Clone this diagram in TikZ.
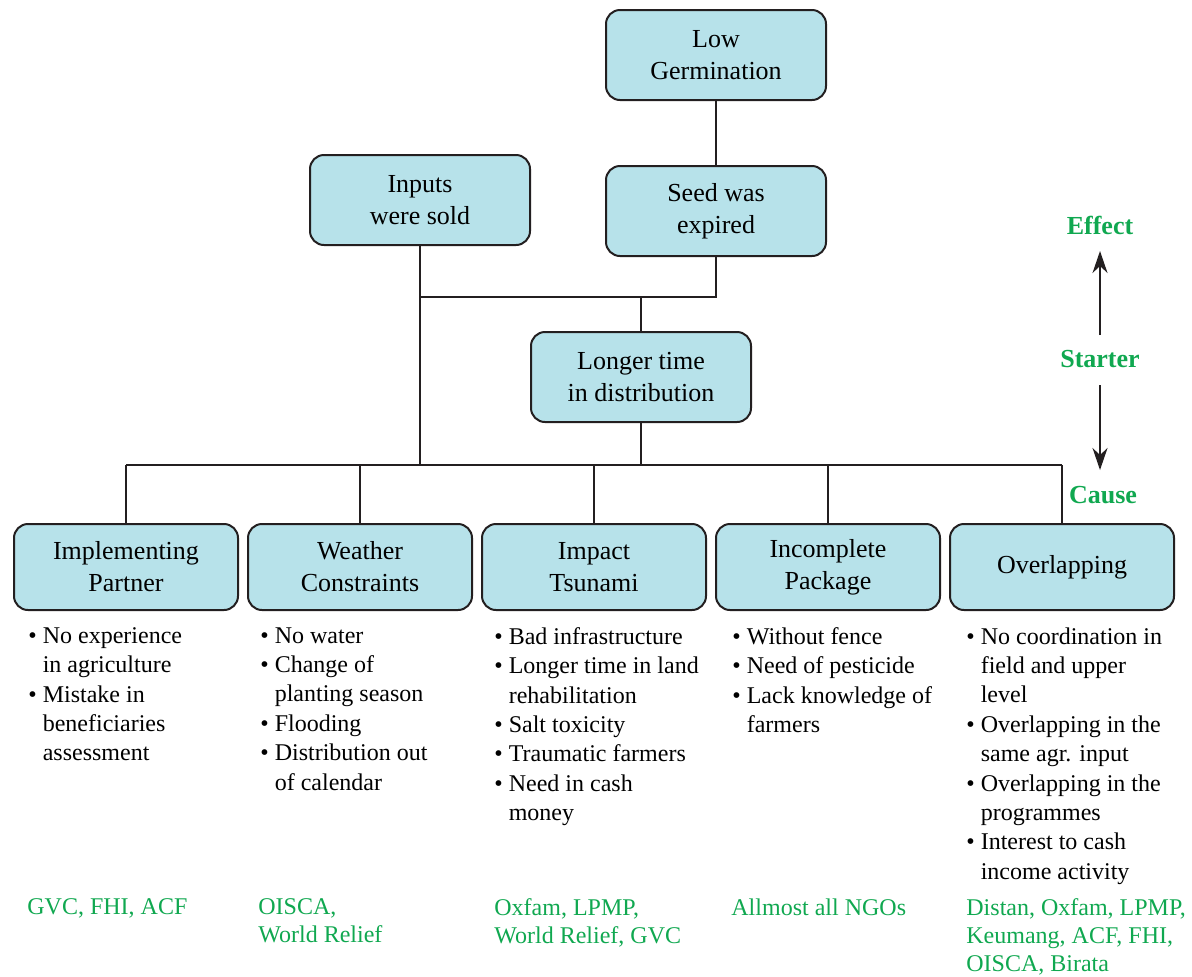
\documentclass[tikz,border=0pt]{standalone}
\usepackage{fontspec}
\setmainfont{Liberation Serif}
\usetikzlibrary{arrows.meta}

\definecolor{boxblue}{RGB}{183,226,234}
\definecolor{boxline}{RGB}{35,31,32}
\definecolor{ngogreen}{RGB}{16,168,80}

\newcommand{\itm}{\textbullet~}
\newcommand{\ind}{\hphantom{\textbullet~}}

\begin{document}
\begin{tikzpicture}[x=0.5pt, y=-0.5pt]
    \tikzset{box/.style={draw=boxline, line width=1pt, fill=boxblue, rounded corners=7pt,
        minimum width=110pt, minimum height=45pt, align=center, inner sep=2pt,
        font=\fontsize{13}{16}\selectfont}}
    \tikzset{cause box/.style={box, minimum width=112pt, minimum height=43pt}}
    \tikzset{bullets/.style={anchor=north west, inner sep=0pt, align=left,
        font=\fontsize{12}{14.7}\selectfont}}
    \tikzset{ngos/.style={anchor=north west, inner sep=0pt, align=left, text=ngogreen,
        font=\fontsize{12}{14}\selectfont}}
    \tikzset{axis label/.style={text=ngogreen, font=\fontsize{13}{15}\selectfont\bfseries}}
    \tikzset{link/.style={draw=boxline, line width=0.9pt}}

    % page
    \useasboundingbox (0,0) rectangle (1192,976);

    % effect boxes
    \node (low)    at (716,55)  [box] {Low\\Germination};
    \node (inputs) at (420,200) [box] {Inputs\\were sold};
    \node (seed)   at (716,211) [box] {Seed was\\expired};
    \node (longer) at (641,377) [box] {Longer time\\in distribution};

    % cause boxes
    \node (partner)    at (126,567)  [cause box] {Implementing\\Partner};
    \node (weather)    at (360,567)  [cause box] {Weather\\Constraints};
    \node (tsunami)    at (594,567)  [cause box] {Impact\\Tsunami};
    \node (package)    at (828,567)  [cause box] {Incomplete\\Package};
    \node (overlap)    at (1062,567) [cause box] {Overlapping};

    % bus coordinates
    \coordinate (upper bus) at (641,297);
    \coordinate (lower bus) at (641,465);

    % connectors
    \draw[link] (low) -- (seed);
    \draw[link] (seed.south) -- (seed.south |- upper bus) -- (inputs.south |- upper bus);
    \draw[link] (upper bus) -- (longer.north);
    \draw[link] (inputs.south) -- (inputs.south |- lower bus);
    \draw[link] (longer.south) -- (lower bus);
    \draw[link] (partner.north |- lower bus) -- (overlap.north |- lower bus);
    \foreach \b in {partner, weather, tsunami, package, overlap}
        \draw[link] (\b.north) -- (\b.north |- lower bus);

    % bullet lists
    \node (partner list) at (28,627) [bullets]
        {\itm No experience\\\ind in agriculture\\\itm Mistake in\\\ind beneficiaries\\\ind assessment};
    \node (weather list) at (260,627) [bullets]
        {\itm No water\\\itm Change of\\\ind planting season\\\itm Flooding\\\itm Distribution out\\\ind of calendar};
    \node (tsunami list) at (494,627) [bullets]
        {\itm Bad infrastructure\\\itm Longer time in land\\\ind rehabilitation\\\itm Salt toxicity\\\itm Traumatic farmers\\\itm Need in cash\\\ind money};
    \node (package list) at (732,627) [bullets]
        {\itm Without fence\\\itm Need of pesticide\\\itm Lack knowledge of\\\ind farmers};
    \node (overlap list) at (966,627) [bullets]
        {\itm No coordination in\\\ind field and upper\\\ind level\\\itm Overlapping in the\\\ind same agr. input\\\itm Overlapping in the\\\ind programmes\\\itm Interest to cash\\\ind income activity};

    % organisations
    \node (partner ngo) at (27,898)  [ngos] {GVC, FHI, ACF};
    \node (weather ngo) at (258,898) [ngos] {OISCA,\\World Relief};
    \node (tsunami ngo) at (494,898) [ngos] {Oxfam, LPMP,\\World Relief, GVC};
    \node (package ngo) at (731,898) [ngos] {Allmost all NGOs};
    \node (overlap ngo) at (966,898) [ngos] {Distan, Oxfam, LPMP,\\Keumang, ACF, FHI,\\OISCA, Birata};

    % direction
    \node (effect)  at (1100,225) [axis label] {Effect};
    \node (starter) at (1100,359) [axis label] {Starter};
    \node (cause)   at (1103,495) [axis label] {Cause};
    \begin{scope}[>={Stealth[length=11pt, width=7.5pt, inset=3.5pt]}, line width=0.9pt, boxline]
      \draw[->, shorten <=12pt, shorten >=13pt] (starter.center) -- (effect.center);
      \draw[->, shorten <=13pt, shorten >=12.5pt] (starter.center) -- (starter.center |- cause.center);
    \end{scope}

  \end{tikzpicture}
\end{document}
